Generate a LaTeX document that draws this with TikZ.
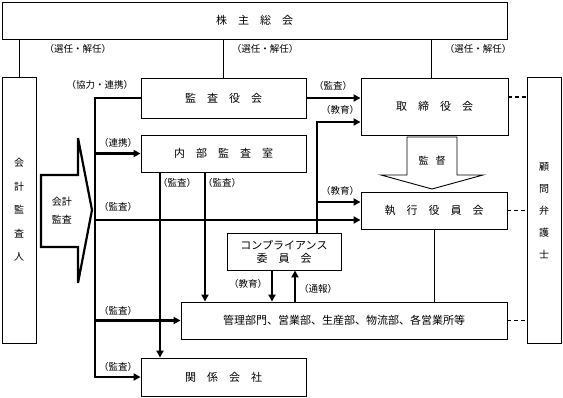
\documentclass[tikz,border=0pt]{standalone}
\usepackage{fontspec}
\setmainfont{Noto Sans CJK JP}
\usetikzlibrary{arrows.meta}
\begin{document}
\begin{tikzpicture}[x=1pt,y=-1pt,
  box/.style={draw, line width=0.9pt, inner sep=0pt, font=\fontsize{11}{13}\selectfont},
  vbox/.style={box, align=center, minimum width=34pt, minimum height=266pt},
  lbl/.style={inner sep=0pt, font=\fontsize{9.5}{10}\selectfont},
  thk/.style={line width=2.2pt},
  arr/.style={-{Triangle[length=7pt,width=7pt]}},
  thn/.style={line width=0.9pt},
  dsh/.style={line width=1.2pt, dash pattern=on 4pt off 3pt},
  blk/.style={line join=miter}
]
\useasboundingbox (0,0) rectangle (563,397);

% boxes
\node[box, minimum width=505pt, minimum height=37pt] (kabu) at (254.5,20.5) {株　主　総　会};
\node[vbox, font=\fontsize{10}{23.5}\selectfont] (kaikei) at (19,210) {会\\計\\監\\査\\人};
\node[vbox, font=\fontsize{10}{22}\selectfont] (komon) at (544,210.5) {顧\\問\\弁\\護\\士};
\node[box, minimum width=165pt, minimum height=40pt] (kansayaku) at (223.5,98) {監　査　役　会};
\node[box, minimum width=147pt, minimum height=57pt] (torishimari) at (434.5,106.5) {取　締　役　会};
\node[box, minimum width=165pt, minimum height=37pt] (naibu) at (223.5,153.5) {内　部　監　査　室};
\node[box, minimum width=146pt, minimum height=37pt] (shikkou) at (434,210.5) {執　行　役　員　会};
\node[box, align=center, minimum width=114pt, minimum height=37pt] (comp) at (284,251.5) {コンプライアンス\\委　員　会};
\node[box, minimum width=326pt, minimum height=37pt] (kanri) at (344,320.5) {管理部門、営業部、生産部、物流部、各営業所等};
\node[box, minimum width=165pt, minimum height=38pt] (kankei) at (223.5,377) {関　係　会　社};

% block arrows
\draw[thk, blk] (41,175) -- (78,175) -- (78,138) -- (92,210) -- (78,283) -- (78,247) -- (41,247) -- cycle;
\node[inner sep=0pt, align=center, font=\fontsize{10}{18}\selectfont] (kaikeikansa) at (62,211) {会計\\監査};
\draw[thn, blk] (407,137) -- (457,137) -- (457,175) -- (483,175) -- (432,189) -- (381,175) -- (407,175) -- cycle;
\node[inner sep=0pt, font=\fontsize{10}{12}\selectfont] (kantoku) at (432,161) {監\hspace{7pt}督};

% top thin lines
\coordinate (t3) at (431,0);
\draw[thn] (kabu.south -| kaikei.north) -- (kaikei.north);
\draw[thn] (kabu.south -| kansayaku.north) -- (kansayaku.north);
\draw[thn] (kabu.south -| t3) -- (torishimari.north -| t3);

% spine
\coordinate (sx) at (95,0);
\draw[thk, arr, blk] (kansayaku.west) -- (kansayaku.west -| sx) -- (kankei.west -| sx) -- (kankei.west);
\draw[thk, arr] (naibu.west -| sx) -- (naibu.west);
\coordinate (kA) at (95,220);
\draw[thk, arr] (kA) -- (kA -| shikkou.west);
\draw[thk, arr] (kanri.west -| sx) -- (kanri.west);

% audit board -> board
\draw[thk, arr] (kansayaku.east) -- (kansayaku.east -| torishimari.west);

% education line
\coordinate (ed) at (317,122);
\coordinate (edB) at (317,202);
\draw[thk, arr, blk] (comp.north -| ed) -- (ed) -- (ed -| torishimari.west);
\draw[thk, arr] (edB) -- (edB -| shikkou.west);

% internal audit lines
\coordinate (n1) at (160,0);
\coordinate (n2) at (205,0);
\draw[thk, arr] (naibu.south -| n1) -- (kankei.north -| n1);
\draw[thk, arr] (naibu.south -| n2) -- (kanri.north -| n2);

% compliance
\coordinate (c1) at (272,0);
\coordinate (c2) at (295,0);
\draw[thk, arr] (comp.south -| c1) -- (kanri.north -| c1);
\draw[thk, arr] (kanri.north -| c2) -- (comp.south -| c2);

% executive -> departments
\draw[thn] (shikkou.south) -- (shikkou.south |- kanri.north);

% dashed to lawyer
\coordinate (d1) at (0,97);
\draw[dsh] (d1 -| torishimari.east) -- (d1 -| komon.west);
\draw[dsh] (shikkou.east) -- (shikkou.east -| komon.west);
\draw[dsh] (kanri.east) -- (kanri.east -| komon.west);

% labels
\node[lbl] (l1) at (78,49) {（選任・解任）};
\node[lbl] (l2) at (265,49) {（選任・解任）};
\node[lbl] (l3) at (478,49) {（選任・解任）};
\node[lbl] (l4) at (100,85) {（協力・連携）};
\node[lbl] (l5) at (333,86) {（監査）};
\node[lbl] (l6) at (340,110) {（教育）};
\node[lbl] (l7) at (118,143) {（連携）};
\node[lbl] (l8) at (177,183) {（監査）};
\node[lbl] (l9) at (222,183) {（監査）};
\node[lbl] (l10) at (118,207) {（監査）};
\node[lbl] (l11) at (340,191) {（教育）};
\node[lbl] (l12) at (248,284) {（教育）};
\node[lbl] (l13) at (318,289) {（通報）};
\node[lbl] (l14) at (118,311) {（監査）};
\node[lbl] (l15) at (118,367) {（監査）};
\end{tikzpicture}
\end{document}
